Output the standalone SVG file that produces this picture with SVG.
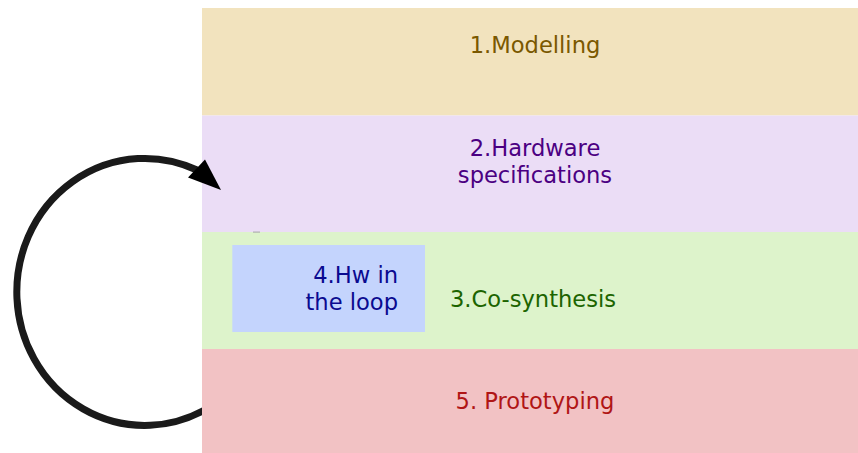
<svg xmlns="http://www.w3.org/2000/svg" width="858" height="453" viewBox="0 0 858 453">
<style>
text{font-family:"DejaVu Sans","Liberation Sans",sans-serif;font-size:22.6px}
.c{text-anchor:middle}
.r{text-anchor:end}
</style>
<defs>
<clipPath id="arcclip">
<rect x="0" y="0" width="202" height="453"/>
<rect x="0" y="0" width="240" height="232"/>
</clipPath>
</defs>
<rect width="858" height="453" fill="#ffffff"/>
<g id="n1">
<rect x="202" y="8" width="656" height="107.5" fill="#f2e3be"/>
<text class="c" x="535" y="53" fill="#7a5800">1.Modelling</text>
</g>
<g id="n2">
<rect x="202" y="115.5" width="656" height="116.5" fill="#ebddf6"/>
<text class="c" x="535" y="155.5" fill="#4b0082">2.Hardware</text>
<text class="c" x="535" y="183" fill="#4b0082">specifications</text>
</g>
<g id="n3">
<rect x="202" y="232" width="656" height="117" fill="#ddf3cb"/>
<rect x="253" y="231.5" width="7" height="1.2" fill="#b0b0b0"/>
<text class="c" x="533" y="306.5" fill="#1c6400">3.Co-synthesis</text>
</g>
<g id="n4">
<rect x="232.3" y="245" width="192.7" height="87" fill="#c4d4fd"/>
<text class="r" x="398" y="283" fill="#0a0a90">4.Hw in</text>
<text class="r" x="398" y="310" fill="#0a0a90">the loop</text>
</g>
<g id="n5">
<rect x="202" y="349" width="656" height="104" fill="#f2c2c4"/>
<text class="c" x="535" y="408.5" fill="#b01515">5. Prototyping</text>
</g>
<g id="connectors">
<path d="M 208 408 A 128 133.5 0 1 1 197 170" fill="none" stroke="#1a1a1a" stroke-width="7" clip-path="url(#arcclip)"/>
<polygon points="221,190 188,177.5 205,159.5" fill="#000000"/>
</g>
</svg>
